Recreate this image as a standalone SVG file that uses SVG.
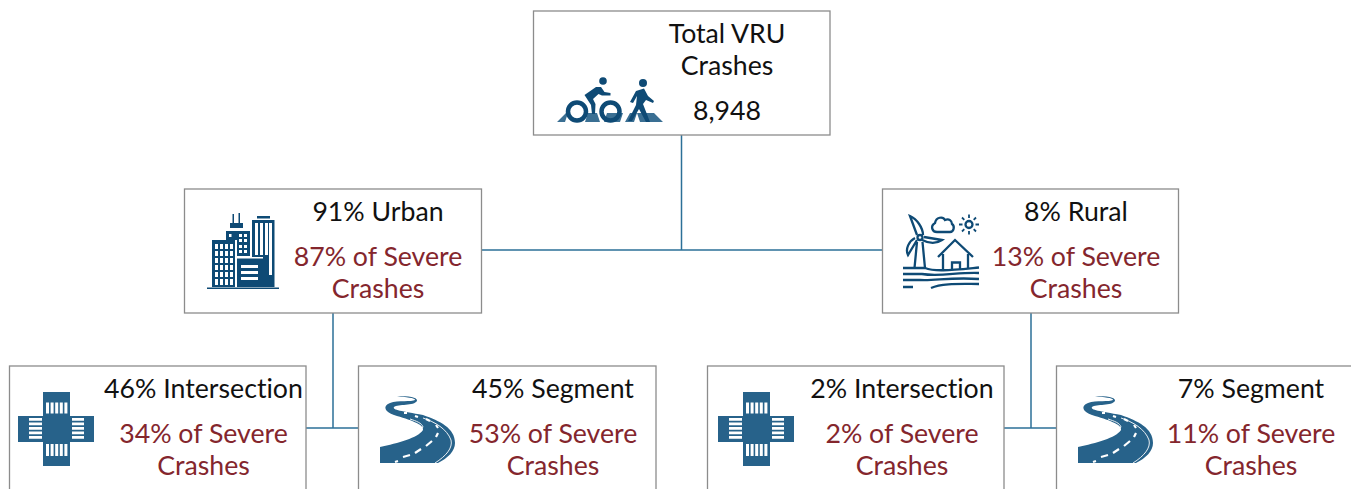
<svg xmlns="http://www.w3.org/2000/svg" width="1351" height="489" viewBox="0 0 1351 489">
<style>
.box{fill:#fff;stroke:#8c8c8c;stroke-width:1.3}
.c{fill:none;stroke:#2c7098;stroke-width:1.5}
text{font-family:"Lato","Liberation Sans",sans-serif;font-size:26.700px;text-anchor:middle;fill:#111;font-variant-ligatures:none}
.r{fill:#84262d}
</style>
<defs>
<g id="cross">
<path d="M25 0h27v24h24v26H52v24H25V50H0V24h25z" fill="#27628a"/>
<g fill="#fff">
<path d="M28 10.500h3v11h-3zM32.600 10.500h3v11h-3zM37.200 10.500h3v11h-3zM41.800 10.500h3v11h-3zM46.400 10.500h3v11h-3z"/>
<path d="M28 52h3v12h-3zM32.600 52h3v12h-3zM37.200 52h3v12h-3zM41.800 52h3v12h-3zM46.400 52h3v12h-3z"/>
<path d="M11 26h13v2.800H11zM11 30.500h13v2.800H11zM11 35h13v2.800H11zM11 39.500h13v2.800H11zM11 44h13v2.800H11z"/>
<path d="M54 26h12v2.800H54zM54 30.500h12v2.800H54zM54 35h12v2.800H54zM54 39.500h12v2.800H54zM54 44h12v2.800H54z"/>
</g>
</g>
<g id="road">
<path d="M0 67V51C18 47 38 42 43 34C44 28 30 24 14 19C5 16 2 10 10 7C18 4 32 6 35 4C36 2 25 1 17 0C28 0 38 1 37 5C34 10 18 8 14 11C12 14 22 15 43 19C60 25 75 32 75 47C75 55 68 62 58 67Z" fill="#27628a"/>
<path d="M0 49C18 46 37 40 43 31C42 27 36 25 30 23" fill="none" stroke="#fff" stroke-width="0.900"/>
<path d="M55 67C66 60 73 52 71 44C67 33 55 26 43 22" fill="none" stroke="#fff" stroke-width="0.900"/>
<path d="M15 66L18 65M23 61L30 59M35 57L41 53M46 50L52 45M56 41L58 37M58 32L56 29M50 25L46 23M38 21L35 20M27 17L24 17" fill="none" stroke="#fff" stroke-width="2.200"/>
</g>
</defs>
<g id="connectors">
<path class="c" d="M681.500 135V250M481 250H883M333 313V428M306 428H358M1031 313V428M1004 428H1056"/>
</g>
<g id="node-total">
<rect class="box" x="533.500" y="11" width="296.500" height="124"/>
<path d="M557 122L566 113H568L565 122ZM585 122H600L597 113H588ZM604 122H620L623 113H607ZM625 122H634L637 113H630ZM640 122H663L654 113H637Z" fill="#3a6f93"/>
<g fill="none" stroke="#0e4a75" stroke-width="4.500">
<circle cx="577" cy="111.500" r="9"/>
<circle cx="610.500" cy="111.500" r="9"/>
</g>
<g fill="#0e4a75">
<circle cx="603" cy="81" r="3.800"/>
<path d="M584.500 95L596 87L601 87L604.500 92L610.500 93L610.500 95.500L602 95.500L598.500 94L593 99L595.500 104L595 114H592L591 105Z"/>
<circle cx="643" cy="83" r="4"/>
<path d="M636 91L644 88.500L648 96L654 101L653 103L646 100L643 104L650 122H646L639 109L632 121H628L636 105L637 96L633 103L630 102Z"/>
</g>
<text x="727" y="43">Total VRU</text>
<text x="727" y="75">Crashes</text>
<text x="727" y="120">8,948</text>
</g>
<g id="node-urban">
<rect class="box" x="184.500" y="189" width="297" height="124"/>
<g fill="#0e4a75">
<path d="M207 287.500H279V289H207Z"/>
<path d="M212 240H235V287H212ZM226 231H250V256H226ZM230 223H243V228H230ZM232.500 214H234V223H232.500ZM238.500 213H240V223H238.500Z"/>
<path d="M252 220H274.500V287H252ZM257 216H270V218.500H257Z"/>
<path d="M237 258H262V287H237Z"/>
</g>
<g fill="#fff">
<path d="M235.500 257H263V258.500H235.500ZM235.500 257V287H237V257ZM250 220V257H251.500V220ZM235 240H237V256H235ZM226 229.500H250V231H226Z"/>
<path d="M255 223H258V255H255ZM260 223H263V255H260ZM265 223H268V255H265ZM269 223H272V275H269Z"/>
<path d="M241 265H258V268H241ZM241 271H258V274H241ZM241 277H258V280H241Z"/>
<path d="M215 244h3v5h-3zM220 244h3v5h-3zM225 244h3v5h-3zM230 244h3v5h-3zM215 251h3v5h-3zM220 251h3v5h-3zM225 251h3v5h-3zM230 251h3v5h-3zM215 258h3v5h-3zM220 258h3v5h-3zM225 258h3v5h-3zM230 258h3v5h-3zM215 265h3v5h-3zM220 265h3v5h-3zM225 265h3v5h-3zM230 265h3v5h-3zM215 272h3v5h-3zM220 272h3v5h-3zM225 272h3v5h-3zM230 272h3v5h-3zM215 279h3v6h-3zM220 279h3v6h-3zM225 279h3v6h-3zM230 279h3v6h-3z"/>
<path d="M229 234h2.500v3H229zM239 234h3v3h-3zM244 234h3v3h-3zM239 239h3v3h-3zM244 239h3v3h-3zM239 245h3v3h-3zM244 245h3v3h-3zM239 250h3v3h-3zM244 250h3v3h-3z"/>
</g>
<text x="378" y="221">91% Urban</text>
<text class="r" x="378" y="266">87% of Severe</text>
<text class="r" x="378" y="298">Crashes</text>
</g>
<g id="node-rural">
<rect class="box" x="882.500" y="189" width="296" height="124"/>
<g fill="none" stroke="#0e4a75" stroke-width="2.300">
<path d="M917 235L910 216C917 219 923 228 923 235M924 237L942 240C936 244 928 243 922 240M917 240L908 255C905 249 909 241 915 238M917 242L914.500 268M922.500 242L925 268"/>
<circle cx="920" cy="237.500" r="2.500"/>
<path d="M937 232C932 232 930 226 935 223C936 217 943 216 945 220C949 218 952 221 952 224C955 226 954 232 950 232Z"/>
<circle cx="969" cy="224.500" r="3.500"/>
<path d="M969 214.500v3.500M969 231v3.500M959 224.500h3.500M975.500 224.500h3.500M962 217.500l2.300 2.300M973.700 229.200l2.300 2.300M976 217.500l-2.300 2.300M964.300 229.200l-2.300 2.300" stroke-width="1.800"/>
<path d="M938 257L955 240L973 257M943 254V270M968 254V268M952 270V262.500H960V269"/>
<path d="M903 268H925C935 272 952 270 979 267.500M903 274H922C940 277 958 272 979 273M903 280H920C935 281 950 277 979 279M903 287H913M931 288C942 283 960 284 979 284"/>
</g>
<text x="1076" y="221">8% Rural</text>
<text class="r" x="1076" y="266">13% of Severe</text>
<text class="r" x="1076" y="298">Crashes</text>
</g>
<g id="node-urban-intersection">
<rect class="box" x="9.500" y="366" width="296.500" height="130"/>
<use href="#cross" x="18" y="392"/>
<text x="203.500" y="398">46% Intersection</text>
<text class="r" x="203.500" y="443">34% of Severe</text>
<text class="r" x="203.500" y="475">Crashes</text>
</g>
<g id="node-urban-segment">
<rect class="box" x="358.500" y="366" width="297.500" height="130"/>
<use href="#road" x="380" y="396"/>
<text x="553" y="398">45% Segment</text>
<text class="r" x="553" y="443">53% of Severe</text>
<text class="r" x="553" y="475">Crashes</text>
</g>
<g id="node-rural-intersection">
<rect class="box" x="707.500" y="366" width="296.500" height="130"/>
<use href="#cross" x="718" y="392"/>
<text x="902" y="398">2% Intersection</text>
<text class="r" x="902" y="443">2% of Severe</text>
<text class="r" x="902" y="475">Crashes</text>
</g>
<g id="node-rural-segment">
<rect class="box" x="1056.500" y="366" width="300" height="130"/>
<use href="#road" x="1078" y="396"/>
<text x="1251" y="398">7% Segment</text>
<text class="r" x="1251" y="443">11% of Severe</text>
<text class="r" x="1251" y="475">Crashes</text>
</g>
</svg>
